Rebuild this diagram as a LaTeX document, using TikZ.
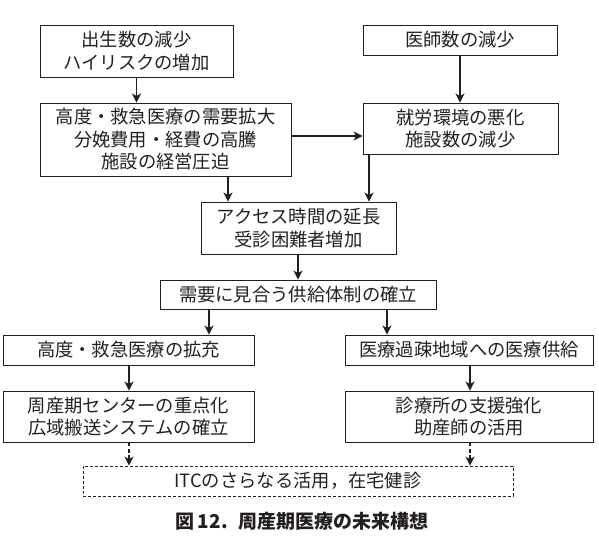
\documentclass[tikz,border=0pt]{standalone}
\usepackage{fontspec}
\setmainfont{Noto Sans CJK JP}
\usetikzlibrary{arrows.meta}
\definecolor{ink}{HTML}{231F20}
\begin{document}
\begin{tikzpicture}[x=1pt,y=-1pt,
  box/.style={draw=ink,line width=0.9pt,rectangle,inner sep=0pt,align=center,text=ink,
    font=\fontsize{18.3pt}{22.5pt}\selectfont},
  dbox/.style={box,dashed,dash pattern=on 3pt off 2pt,line width=0.7pt},
  arr/.style={draw=ink,line width=1.5pt,-{Stealth[length=9pt,width=9pt,inset=2.5pt]}},
  darr/.style={arr,dash pattern=on 4pt off 2.5pt}]
\useasboundingbox (0,0) rectangle (599,548);
\node[box,minimum width=193pt,minimum height=52pt] (b1) at (136.5,51) {出生数の減少\\ハイリスクの増加};
\node[box,minimum width=251pt,minimum height=73pt] (b2) at (165.5,139.5) {高度・救急医療の需要拡大\\分娩費用・経費の高騰\\施設の経営圧迫};
\node[box,minimum width=194pt,minimum height=30pt] (doc) at (460,40) {医師数の減少};
\node[box,minimum width=195pt,minimum height=51pt] (work) at (460.5,128.5) {就労環境の悪化\\施設数の減少};
\node[box,minimum width=195pt,minimum height=52pt] (acc) at (298.5,228) {アクセス時間の延長\\受診困難者増加};
\node[box,minimum width=276pt,minimum height=29pt] (dem) at (298,294.5) {需要に見合う供給体制の確立};
\node[box,minimum width=251pt,minimum height=30pt] (adv) at (128.5,350) {高度・救急医療の拡充};
\node[box,minimum width=248pt,minimum height=30pt] (rur) at (469,350) {医療過疎地域への医療供給};
\node[box,minimum width=251pt,minimum height=51pt] (peri) at (128.5,416.5) {周産期センターの重点化\\広域搬送システムの確立};
\node[box,minimum width=248pt,minimum height=51pt] (cli) at (469,416.5) {診療所の支援強化\\助産師の活用};
\node[dbox,minimum width=430pt,minimum height=30pt] (itc) at (298,481) {ITCのさらなる活用，在宅健診};
\node[text=ink,font=\fontsize{19pt}{22pt}\selectfont\bfseries] (cap) at (302,521) {図\,12.\hspace{0.55em}周産期医療の未来構想};
\draw[arr] (b1.south) -- (b1.south |- b2.north);
\draw[arr] (doc.south) -- (doc.south |- work.north);
\draw[arr] (b2.east |- 0,136) -- (work.west |- 0,136);
\draw[arr] (b2.south -| 228,0) -- (acc.north -| 228,0);
\draw[arr] (work.south -| 369,0) -- (acc.north -| 369,0);
\draw[arr] (acc.south -| 298,0) -- (dem.north -| 298,0);
\draw[arr] (dem.south -| 209,0) -- (adv.north -| 209,0);
\draw[arr] (dem.south -| 387,0) -- (rur.north -| 387,0);
\draw[arr] (adv.south -| 129,0) -- (peri.north -| 129,0);
\draw[arr] (rur.south -| 470,0) -- (cli.north -| 470,0);
\draw[darr] (peri.south -| 129,0) -- (itc.north -| 129,0);
\draw[darr] (cli.south -| 470,0) -- (itc.north -| 470,0);
\end{tikzpicture}
\end{document}
